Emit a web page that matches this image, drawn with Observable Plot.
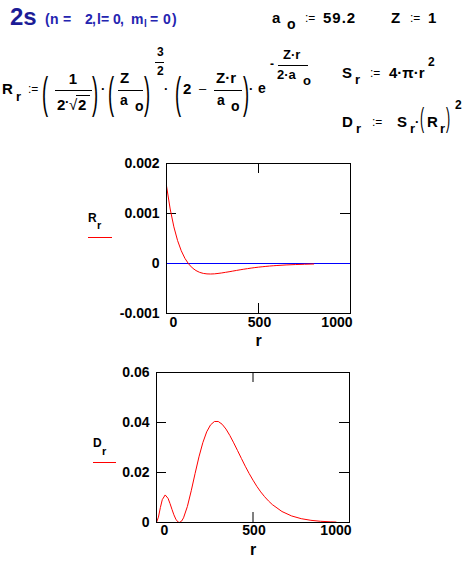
<!DOCTYPE html>
<html><head><meta charset="utf-8">
<script src="https://cdn.jsdelivr.net/npm/d3@7"></script>
<script src="https://cdn.jsdelivr.net/npm/@observablehq/plot@0.6"></script>
<style>
html,body{margin:0;padding:0;background:#fff;}
#wrap{position:relative;width:470px;height:563px;overflow:hidden;background:#fff;}
#wrap > svg{position:absolute;}
</style></head><body><div id="wrap"></div>
<script>
// ---- data ----
const rR = [0,20,40,60,80,100,120,140,160,180,200,220,240,260,280,300,320,340,360,380,400,420,440,460,480,500,520,540,560,580,600,650,700,750,800];
const Rvals = [0.001552,0.001090,0.000733,0.000461,0.000256,0.000104,-0.000008,-0.000087,-0.000141,-0.000177,-0.000198,-0.000208,-0.000210,-0.000207,-0.000199,-0.000189,-0.000177,-0.000165,-0.000152,-0.000139,-0.000126,-0.000114,-0.000103,-0.000092,-0.000082,-0.000073,-0.000065,-0.000058,-0.000051,-0.000045,-0.000040,-0.000029,-0.000021,-0.000015,-0.000010];
const rD = [0,10,20,30,45,60,70,80,90,100,110,118,130,140,160,180,200,220,240,260,280,300,320,340,360,380,400,420,440,460,480,500,520,540,560,580,600,650,700,750,800,850,900,930];
const Dvals = [0,0.00214,0.00597,0.00915,0.01102,0.00963,0.00760,0.00528,0.00309,0.00135,0.00029,0,0.00055,0.00186,0.00641,0.01270,0.01963,0.02626,0.03192,0.03626,0.03905,0.04040,0.04041,0.03931,0.03738,0.03481,0.03187,0.02876,0.02561,0.02251,0.01961,0.01693,0.01444,0.01224,0.01033,0.00864,0.00717,0.00440,0.00262,0.00153,0.00087,0.00049,0.00027,0.00019];
const xTicks = [0, 500, 1000];
const xInnerTicks = [500];
const yTicksR = [0.002, 0.001, 0, -0.001];
const yTickLabelsR = ["0.002", "0.001", "0", "-0.001"];
const yInnerR = [0.001, 0];
const yTicksD = [0.06, 0.04, 0.02, 0];
const yTickLabelsD = ["0.06", "0.04", "0.02", "0"];
const yInnerD = [0.04, 0.02];
const zeroLine = [0];

const FONT = '"Liberation Sans", Arial, sans-serif';
const wrap = document.getElementById("wrap");

function chart(o) {
  const iw = 470 - o.ml - o.mr, ih = o.h - o.mt - o.mb;
  const rows = o.xs.map((x, i) => ({x, y: o.ys[i]}));
  const lab = (vals, labels) => vals.map((v, i) => ({v, s: labels[i]}));
  const marks = [
    Plot.tickY(o.yInner, {y: d => d, insetRight: iw - 10, stroke: "black"}),
    Plot.tickY(o.yInner, {y: d => d, insetLeft: iw - 10, stroke: "black"}),
    Plot.tickX(xInnerTicks, {x: d => d, insetBottom: ih - 10, stroke: "black"}),
    Plot.tickX(xInnerTicks, {x: d => d, insetTop: ih - 10, stroke: "black"}),
  ];
  if (o.zero) marks.push(Plot.ruleY(zeroLine, {y: d => d, stroke: "#0000ff", strokeWidth: 1}));
  marks.push(
    Plot.line(rows, {x: "x", y: "y", stroke: "#ff0000", strokeWidth: 1}),
    Plot.frame({stroke: "black"}),
    Plot.text(lab(o.yT, o.yL), {y: "v", text: "s", frameAnchor: "left", dx: -7, textAnchor: "end"}),
    Plot.text([xTicks[0]], {x: d => d, text: d => String(d), frameAnchor: "bottom", dy: o.xdy, dx: o.x0dx, textAnchor: "start"}),
    Plot.text([xTicks[1]], {x: d => d, text: d => String(d), frameAnchor: "bottom", dy: o.xdy, dx: 1, textAnchor: "middle"}),
    Plot.text([xTicks[2]], {x: d => d, text: d => String(d), frameAnchor: "bottom", dy: o.xdy, dx: 2, textAnchor: "end"}),
    Plot.text(["r"], {text: d => d, frameAnchor: "bottom", dy: 32, fontSize: 16})
  );
  const svg = Plot.plot({
    width: 470, height: o.h,
    marginLeft: o.ml, marginRight: o.mr, marginTop: o.mt, marginBottom: o.mb,
    x: {domain: [0, 1000], axis: null},
    y: {domain: o.ydom, axis: null},
    style: {fontFamily: FONT, fontWeight: "bold", fontSize: "14px", background: "transparent", overflow: "visible", color: "black"},
    marks
  });
  svg.style.left = "0px";
  svg.style.top = o.top + "px";
  wrap.appendChild(svg);
}

chart({top: 140, h: 215, ml: 166, mr: 120, mt: 23, mb: 42, xs: rR, ys: Rvals, ydom: [-0.001, 0.002],
  yT: yTicksR, yL: yTickLabelsR, yInner: yInnerR, zero: true, xdy: 13, x0dx: 3});
chart({top: 355, h: 208, ml: 156, mr: 121, mt: 17, mb: 41, xs: rD, ys: Dvals, ydom: [0, 0.06],
  yT: yTicksD, yL: yTickLabelsD, yInner: yInnerD, zero: false, xdy: 12, x0dx: 4});

// ---- header formulas and legends (overlay) ----
const NS = "http://www.w3.org/2000/svg";
const ov = document.createElementNS(NS, "svg");
ov.setAttribute("width", 470); ov.setAttribute("height", 563);
ov.style.left = "0px"; ov.style.top = "0px";
ov.setAttribute("font-family", FONT);
ov.setAttribute("font-weight", "bold");
wrap.appendChild(ov);

function t(str, x, y, size, extra) {
  const e = document.createElementNS(NS, "text");
  e.setAttribute("x", x); e.setAttribute("y", y);
  e.setAttribute("font-size", size);
  e.style.whiteSpace = "pre";
  if (extra) for (const k in extra) e.setAttribute(k, extra[k]);
  e.textContent = str;
  ov.appendChild(e);
  return e;
}
function hl(x1, x2, y, color, w) {
  const e = document.createElementNS(NS, "line");
  e.setAttribute("x1", x1); e.setAttribute("x2", x2);
  e.setAttribute("y1", y); e.setAttribute("y2", y);
  e.setAttribute("stroke", color || "black");
  e.setAttribute("stroke-width", w || 1);
  ov.appendChild(e);
}
function paren(ch, x, top, bottom, sx) {
  const s = (bottom - top) / 0.94;
  const base = bottom - 0.21 * s;
  const e = document.createElementNS(NS, "text");
  e.setAttribute("x", 0); e.setAttribute("y", 0);
  e.setAttribute("font-size", s);
  e.setAttribute("font-weight", "normal");
  e.setAttribute("transform", `translate(${x},${base}) scale(${sx || 0.42},1)`);
  e.textContent = ch;
  ov.appendChild(e);
}
const asg = (x, y) => t(":=", x, y, 12, {"font-weight": "normal"});

// title
t("2s", 10, 25, 24, {fill: "#1c1c96"});
const blue = {fill: "#2424b0"};
t("(", 45, 24, 14, blue);
t("n", 50, 24, 14, blue);
t("=", 63, 24, 14, blue);
t("2", 85, 24, 14, blue);
t(",", 92, 24, 14, blue);
t("l", 97, 24, 14, blue);
t("=", 101, 24, 14, blue);
t("0", 113, 24, 14, blue);
t(",", 120, 24, 14, blue);
t("m", 131, 24, 14, blue);
t("l", 144, 27, 10, blue);
t("=", 150, 24, 14, blue);
t("0", 163, 24, 14, blue);
t(")", 172, 24, 14, blue);

// a_o := 59.2   Z := 1
t("a", 272, 23, 15);
t("o", 287, 29, 14);
asg(305, 22);
t("59.2", 323, 23, 15, {"letter-spacing": "1"});
t("Z", 391, 23, 15);
asg(410, 22);
t("1", 428, 23, 15);

// R_r := ...
t("R", 2, 94, 15);
t("r", 16, 101, 13);
asg(28, 93);
paren("(", 42, 76, 117);
t("1", 73, 84, 15, {"text-anchor": "middle"});
hl(55, 92, 90.5);
t("2", 57, 110, 15);
t("·", 65, 106, 13);
t("√", 69, 110, 15, {"font-weight": "normal"});
hl(76, 90, 95.5);
t("2", 78, 110, 15);
paren(")", 92, 76, 117);
t("·", 101, 93, 13);
paren("(", 108, 76, 117);
t("Z", 120, 83, 15);
hl(118, 143, 90.5);
t("a", 120, 105, 14);
t("o", 135, 111, 14);
paren(")", 144, 76, 117);
t("3", 157, 56, 12);
hl(155, 164, 62.5);
t("2", 157, 75, 12);
t("·", 164, 93, 13);
paren("(", 175, 76, 117);
t("2", 183, 94, 15);
t("–", 199, 93, 13, {"font-weight": "normal"});
t("Z·r", 216, 83, 15);
hl(214, 242, 90.5);
t("a", 217, 105, 14);
t("o", 231, 111, 14);
paren(")", 243, 76, 117);
t("·", 249, 93, 13);
t("e", 258, 93, 14);
t("-", 270, 68, 12);
t("Z·r", 283, 59, 13);
hl(278, 308, 65.5);
t("2·a", 277, 79, 13);
t("o", 303, 85, 13);

// S_r := 4·π·r^2
t("S", 342, 78, 15);
t("r", 355, 84, 13);
asg(370, 77);
t("4·π·r", 389, 78, 15);
t("2", 428, 66, 12);

// D_r := S_r·(R_r)^2
t("D", 342, 127, 15);
t("r", 356, 133, 13);
asg(372, 126);
t("S", 397, 127, 15);
t("r", 410, 133, 13);
t("·", 415, 126, 13);
paren("(", 420, 107, 133, 0.45);
t("R", 427, 127, 15);
t("r", 440, 133, 13);
paren(")", 446, 107, 133, 0.45);
t("2", 455, 109, 12);

// legends
t("R", 88, 222, 12);
t("r", 97, 229, 11);
hl(88, 112, 237.5, "#ff0000");
t("D", 93, 447, 12);
t("r", 102, 455, 11);
hl(93, 116, 462.5, "#ff0000");
</script></body></html>
